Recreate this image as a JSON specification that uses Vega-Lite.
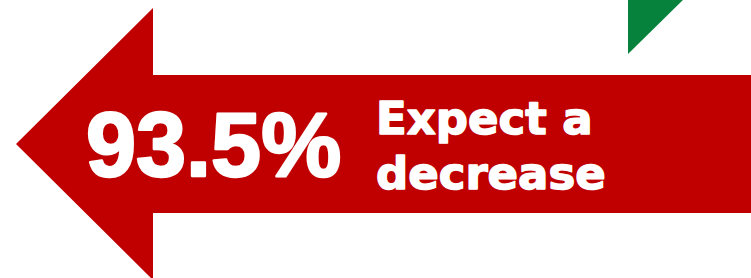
{
  "$schema": "https://vega.github.io/schema/vega-lite/v6.json",
  "width": 751,
  "height": 278,
  "autosize": {"type": "fit", "contains": "padding"},
  "padding": 0,
  "background": "white",
  "config": {"view": {"stroke": null}},
  "layer": [
    {
      "data": {"values": [
        {"px": 16, "top": 144, "bottom": 144},
        {"px": 153, "top": 8, "bottom": 280},
        {"px": 153, "top": 75, "bottom": 213},
        {"px": 760, "top": 75, "bottom": 213}
      ]},
      "mark": {"type": "area", "color": "#c00000", "clip": true},
      "encoding": {
        "x": {"field": "px", "type": "quantitative", "scale": {"domain": [0, 751], "nice": false, "zero": false}, "axis": null},
        "y": {"field": "top", "type": "quantitative", "scale": {"domain": [0, 278], "reverse": true, "nice": false, "zero": false}, "axis": null},
        "y2": {"field": "bottom"},
        "order": {"value": null}
      }
    },
    {
      "data": {"values": [
        {"px": 628, "top": -5, "bottom": 54},
        {"px": 688, "top": -5, "bottom": -5}
      ]},
      "mark": {"type": "area", "color": "#06823c", "clip": true},
      "encoding": {
        "x": {"field": "px", "type": "quantitative"},
        "y": {"field": "top", "type": "quantitative"},
        "y2": {"field": "bottom"},
        "order": {"value": null}
      }
    },
    {
      "data": {"values": [{"label": "93.5%", "px": 86, "top": 176}]},
      "mark": {"type": "text", "font": "Liberation Sans", "fontWeight": "bold", "fontSize": 90, "fill": "white", "stroke": "white", "strokeWidth": 2.5, "strokeJoin": "round", "align": "left", "baseline": "alphabetic"},
      "encoding": {
        "x": {"field": "px", "type": "quantitative"},
        "y": {"field": "top", "type": "quantitative"},
        "text": {"field": "label"}
      }
    },
    {
      "data": {"values": [
        {"label": "Expect a", "px": 376, "top": 134},
        {"label": "decrease", "px": 376, "top": 189}
      ]},
      "mark": {"type": "text", "font": "DejaVu Sans", "fontWeight": "bold", "fontSize": 45, "fill": "white", "stroke": "white", "strokeWidth": 1.5, "strokeJoin": "round", "align": "left", "baseline": "alphabetic"},
      "encoding": {
        "x": {"field": "px", "type": "quantitative"},
        "y": {"field": "top", "type": "quantitative"},
        "text": {"field": "label"}
      }
    }
  ]
}
